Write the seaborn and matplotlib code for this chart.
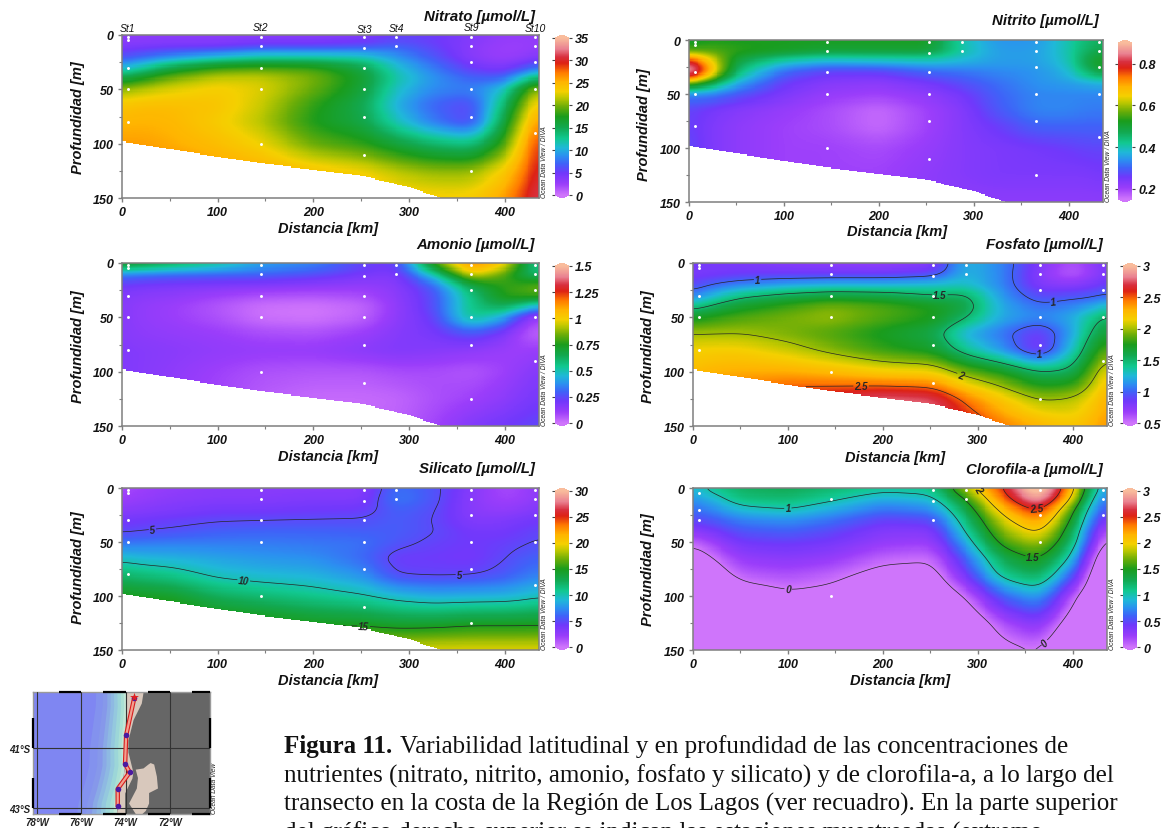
import numpy as np
import matplotlib
matplotlib.use("Agg")
import matplotlib.pyplot as plt
from matplotlib.colors import LinearSegmentedColormap
import seaborn as sns

sns.set_theme(style="white")
plt.rcParams["font.family"] = ["Liberation Sans", "DejaVu Sans"]
plt.rcParams["font.weight"] = "bold"
plt.rcParams["font.style"] = "italic"

W, H = 1165, 829

# grid nodes
dist_nodes = [0, 20, 50, 100, 145, 200, 253, 287, 325, 365, 400, 420, 436]
depth_nodes = [0, 10, 20, 30, 40, 50, 65, 80, 100, 125, 150]

# rows = distance node, columns = depth node
nitrato = [
    [3, 4, 6, 10, 15.5, 20.5, 24, 25, 26, 27, 28],
    [3, 4.2, 7, 12, 17.5, 21.5, 24.5, 25.2, 26, 27, 28],
    [3, 4.5, 8.5, 15.5, 20, 22.5, 24.5, 25, 25.5, 27, 28],
    [3, 4.5, 10.5, 18.5, 22, 23.5, 24, 23.5, 24.5, 26, 27],
    [3, 5.5, 12, 19, 22, 22.5, 22, 21.5, 23, 25.5, 27],
    [3, 5.5, 12, 18.5, 20, 19.5, 18, 17.5, 19.5, 24, 26],
    [3.5, 6, 11.5, 15.5, 16.5, 16, 15, 15.5, 18, 23, 25],
    [5, 7, 9, 11, 12, 11, 10, 11.5, 16, 21.5, 24],
    [5, 5.5, 6.5, 8, 9, 8.5, 7, 8, 14, 20.5, 23.5],
    [4, 3.5, 3.5, 5, 7, 8, 5.5, 5.5, 13, 20.5, 23.5],
    [3, 2.5, 2.5, 4, 7, 11, 14, 16, 18.5, 23.5, 26],
    [3, 2.5, 3, 6, 12, 18, 20.5, 22.5, 25, 27, 29],
    [3, 3, 4, 8, 15, 21.5, 25, 27.5, 30, 31, 32],
]
nitrito = [
    [.5, .55, .85, .95, .6, .33, .27, .27, .28, .28, .28],
    [.52, .56, .68, .72, .5, .33, .25, .24, .24, .24, .24],
    [.52, .54, .48, .44, .36, .29, .23, .22, .22, .22, .22],
    [.52, .52, .39, .3, .26, .24, .21, .2, .2, .2, .2],
    [.52, .5, .36, .26, .23, .21, .19, .19, .2, .2, .2],
    [.52, .5, .37, .26, .22, .2, .16, .16, .19, .2, .2],
    [.52, .5, .38, .3, .25, .22, .2, .2, .21, .22, .22],
    [.4, .41, .37, .31, .28, .25, .23, .23, .23, .23, .22],
    [.34, .35, .35, .33, .31, .3, .29, .26, .24, .24, .22],
    [.34, .35, .35, .34, .34, .33, .33, .3, .25, .24, .22],
    [.4, .4, .39, .37, .35, .33, .33, .3, .26, .24, .22],
    [.45, .47, .5, .46, .36, .33, .32, .3, .27, .24, .22],
    [.46, .48, .53, .5, .37, .33, .32, .3, .27, .25, .22],
]
amonio = [
    [.8, .36, .22, .17, .16, .16, .16, .17, .17, .17, .17],
    [.75, .34, .2, .15, .13, .13, .14, .16, .16, .15, .15],
    [.68, .32, .19, .14, .11, .11, .13, .15, .14, .13, .12],
    [.56, .31, .18, .1, .06, .07, .11, .13, .1, .09, .09],
    [.42, .31, .17, .07, .01, .01, .08, .12, .07, .05, .05],
    [.37, .27, .15, .06, 0, 0, .07, .12, .06, .02, .03],
    [.24, .2, .13, .08, .03, .04, .11, .15, .06, .02, .03],
    [.22, .17, .15, .14, .13, .14, .16, .17, .08, .03, .04],
    [.82, .5, .3, .25, .25, .22, .19, .16, .08, .07, .09],
    [1.2, 1.0, .68, .56, .56, .56, .28, .14, .06, .1, .17],
    [1.05, .82, .78, .78, .66, .42, .18, .11, .1, .14, .21],
    [.7, .65, .78, .8, .52, .17, .06, .1, .14, .18, .23],
    [.5, .55, .85, .82, .4, .08, .03, .12, .17, .2, .25],
]
fosfato = [
    [.85, .8, .9, 1.05, 1.4, 1.7, 2.0, 2.15, 2.25, 2.4, 2.5],
    [.82, .82, 1.0, 1.25, 1.55, 1.78, 2.0, 2.17, 2.3, 2.45, 2.55],
    [.8, .85, 1.1, 1.45, 1.7, 1.85, 2.0, 2.17, 2.32, 2.5, 2.6],
    [.75, .85, 1.2, 1.58, 1.82, 1.92, 1.93, 2.07, 2.32, 2.65, 2.7],
    [.72, .85, 1.25, 1.65, 1.93, 1.98, 1.85, 1.95, 2.27, 2.7, 2.8],
    [.7, .85, 1.25, 1.62, 1.85, 1.85, 1.72, 1.8, 2.17, 2.8, 2.9],
    [.75, .9, 1.3, 1.5, 1.75, 1.75, 1.6, 1.7, 2.15, 2.75, 2.85],
    [1.25, 1.25, 1.3, 1.55, 1.62, 1.52, 1.22, 1.4, 1.9, 2.45, 2.7],
    [1.1, 1.1, 1.1, 1.15, 1.2, 1.2, 1.05, 1.15, 1.75, 2.2, 2.45],
    [.8, .75, .78, .9, 1.03, 1.1, .82, .78, 1.5, 1.98, 2.3],
    [.6, .55, .75, .95, 1.1, 1.2, 1.18, 1.3, 1.55, 2.02, 2.2],
    [.72, .7, .82, .95, 1.18, 1.42, 1.55, 1.68, 1.9, 2.15, 2.3],
    [.85, .82, .9, 1.03, 1.35, 1.55, 1.7, 1.92, 2.2, 2.35, 2.4],
]
silicato = [
    [1.5, 2, 3, 4, 4.7, 6.5, 9.5, 12, 15, 17, 19],
    [2, 2.5, 3.2, 4.2, 5, 6.6, 9, 11.5, 14.7, 17, 19],
    [2.5, 3, 3.5, 4.5, 5.2, 6.8, 8.8, 11, 14.5, 17, 19],
    [3, 3.2, 4, 4.9, 5.8, 6.8, 8.2, 9.5, 12.5, 16, 19],
    [3, 3.2, 4, 5, 6, 6.8, 7.8, 9, 11.8, 15.5, 18.5],
    [3, 3.5, 4.2, 5.1, 6, 6.6, 7.5, 8.7, 11, 14.7, 18.5],
    [3, 3.5, 4.3, 5.2, 5.8, 6.5, 6.2, 7.5, 10.2, 14.5, 19],
    [6.5, 7, 6, 5.8, 5.8, 5.5, 4.3, 4.9, 9.2, 14, 19],
    [5.5, 5.5, 5.2, 5, 5.1, 4.7, 4.3, 4.7, 8.5, 14, 19.5],
    [3.2, 3, 3, 3.3, 4, 4.2, 4, 4.8, 8.7, 14.5, 19.5],
    [1.5, 1.8, 2.5, 3.5, 4, 4.5, 4.9, 5.5, 8.8, 14.5, 19.5],
    [2, 2.2, 3, 4, 4.5, 4.8, 5.7, 6.5, 9.2, 14.5, 19.5],
    [3, 3, 3.5, 4.2, 4.8, 5.2, 6, 7, 9.8, 14.6, 19.5],
]
clorofila = [
    [.9, .75, .62, .48, .28, .05, -.2, -.5, -.5, -.5, -.5],
    [1.1, .88, .72, .55, .38, .2, 0, -.2, -.5, -.5, -.5],
    [1.25, 1.15, .92, .7, .55, .42, .25, .1, -.2, -.5, -.5],
    [1.3, 1.18, 1.0, .75, .6, .45, .3, .15, -.05, -.5, -.5],
    [1.22, 1.05, .85, .65, .5, .4, .25, .08, -.1, -.5, -.5],
    [1.1, .85, .65, .45, .33, .25, .07, -.1, -.3, -.5, -.5],
    [1.12, .93, .72, .5, .33, .22, .03, -.12, -.3, -.5, -.5],
    [1.85, 1.5, 1.3, 1.15, 1.02, .85, .6, .4, .02, -.3, -.5],
    [2.5, 2.35, 2.1, 1.9, 1.75, 1.6, 1.3, 1.1, .6, .15, -.1],
    [3.3, 3.0, 2.6, 2.3, 2.08, 1.85, 1.55, 1.3, .85, .35, .02],
    [2.15, 1.95, 1.6, 1.45, 1.3, 1.2, .95, .6, .1, -.2, -.5],
    [1.15, .95, .8, .65, .5, .4, .1, -.1, -.3, -.5, -.5],
    [.75, .6, .45, .25, .02, -.2, -.4, -.5, -.5, -.5, -.5],
]

bathy_x = [0, 50, 100, 145, 200, 253, 300, 320, 335, 337]
bathy_d = [98, 105, 112, 118, 124, 130, 140, 146, 150, 153]

station_names = ["St1", "St2", "St3", "St4", "St9", "St10"]
station_km = [6, 145, 253, 287, 365, 432]
station_rise = [1.5, 2, .5, 1.5, 2, 1.5]
sample_km = [6, 6, 6, 6, 6, 145, 145, 145, 145, 145, 253, 253, 253, 253, 253, 253,
             287, 287, 365, 365, 365, 365, 365, 365, 432, 432, 432, 432, 432]
sample_m = [2, 5, 30, 50, 80, 2, 10, 30, 50, 100, 2, 12, 30, 50, 75, 110,
            2, 10, 2, 10, 25, 50, 75, 125, 2, 10, 25, 50, 90]
chl_km = [6, 6, 6, 145, 145, 253, 253, 253, 287, 287, 365, 365, 365, 432, 432, 432]
chl_m = [5, 20, 30, 10, 100, 2, 12, 30, 2, 10, 2, 25, 50, 2, 10, 25]

cmap_pos = [0, .07, .14, .2, .25, .3, .36, .43, .5, .56, .62, .66, .72, .78, .84, .88, .93, 1]
cmap_col = ["#cf75fb", "#9a3dfa", "#7038fb", "#3f62f8", "#2b90f0", "#1fb8d8", "#11c890",
            "#12a850", "#1a9c1c", "#68ac08", "#c0c800", "#f4d000", "#ffb400", "#ff7a00",
            "#dd2215", "#d83040", "#e98090", "#f9bc9c"]
odv = LinearSegmentedColormap.from_list("odv", list(zip(cmap_pos, cmap_col)), N=512)
odv.set_under(cmap_col[0])
odv.set_over(cmap_col[-1])

GRID_X = np.arange(436) + .5
GRID_D = np.arange(150) + .5
GRAY = "#7f7f7f"


def axes_px(x0, y0, x1, y1):
    return fig.add_axes([x0 / W, 1 - y1 / H, (x1 - x0) / W, (y1 - y0) / H])


def blur(a, width, axis):
    kernel = np.ones(width) / width
    pad = width // 2
    for _ in range(3):
        pads = [(0, 0), (0, 0)]
        pads[axis] = (pad, pad)
        b = np.pad(a, pads, mode="edge")
        a = np.apply_along_axis(lambda v: np.convolve(v, kernel, mode="valid"), axis, b)
    return a


def fine_field(values):
    v = np.array(values, float)
    by_depth = np.array([np.interp(GRID_D, depth_nodes, row) for row in v])
    full = np.array([np.interp(GRID_X, dist_nodes, col) for col in by_depth.T])
    return blur(blur(full, 19, 1), 7, 0)


def ftxt(x, y, s, **kw):
    return fig.text(x / W, 1 - y / H, s, **kw)


def panel(box, cbox, values, vmin, vmax, ticks, ticklabels, title, title_xy, xlab_xy, ylab_xy,
          masked=True, levels=None, labels=None, pts=(sample_km, sample_m)):
    ax = axes_px(*box)
    cax = axes_px(*cbox)
    z = fine_field(values)
    xx, dd = np.meshgrid(GRID_X, GRID_D)
    mask = dd > np.interp(xx, bathy_x, bathy_d) if masked else np.zeros_like(z, bool)
    sns.heatmap(z, mask=mask, cmap=odv, vmin=vmin, vmax=vmax, ax=ax, cbar_ax=cax,
                xticklabels=False, yticklabels=False,
                cbar_kws=dict(ticks=ticks, extend="both", extendfrac=0.018))
    if levels:
        cs = ax.contour(xx, dd, np.ma.array(z, mask=mask), levels=levels, colors="#262626",
                        linewidths=0.5)
        fmt = {lv: f"{lv:g}" for lv in levels}
        for t in ax.clabel(cs, fmt=fmt, fontsize=7, manual=labels, inline=True, inline_spacing=1):
            t.set_fontweight("bold")
            t.set_fontstyle("italic")
    ax.scatter(pts[0], pts[1], s=4.5, color="white", linewidths=0, zorder=5, clip_on=False)
    ax.set_xlim(0, 436)
    ax.set_ylim(150, 0)
    ax.set_xticks([0, 100, 200, 300, 400], ["0", "100", "200", "300", "400"])
    ax.set_yticks([0, 50, 100, 150], ["0", "50", "100", "150"])
    ax.set_xticks([50, 150, 250, 350], minor=True)
    ax.set_yticks([25, 75, 125], minor=True)
    ax.tick_params(which="major", length=3, width=1, color=GRAY, labelsize=9, pad=3,
                   bottom=True, left=True, labelcolor="#111111")
    ax.tick_params(which="minor", length=2, width=.8, color=GRAY, bottom=True, left=True)
    for s in ax.spines.values():
        s.set_visible(True)
        s.set_color(GRAY)
        s.set_linewidth(1.1)
    cb = ax.collections[0].colorbar
    cb.set_ticks(ticks, labels=ticklabels)
    cb.ax.tick_params(length=2.5, width=.8, color="#444444", labelsize=9, pad=2,
                      labelcolor="#111111", right=True, left=True)
    cb.outline.set_linewidth(0)
    ftxt(title_xy[0], title_xy[1], title, ha="right", va="center", fontsize=10.8, color="#111111")
    ftxt(xlab_xy[0], xlab_xy[1], "Distancia [km]", ha="center", va="center", fontsize=10.5, color="#111111")
    ftxt(ylab_xy[0], ylab_xy[1], "Profundidad [m]", ha="center", va="center", rotation=90,
         fontsize=10.5, color="#111111")
    ftxt(box[2] + 6, box[3] - 1, "Ocean Data View / DIVA", ha="center", va="bottom", rotation=90,
         fontsize=4.8, fontweight="normal", color="#222222")
    return ax


fig = plt.figure(figsize=(W / 100, H / 100), dpi=100, facecolor="white")

L = (122, 539)
R = (693, 1107)
ax_no3 = panel((L[0], 36, L[1], 199), (555, 36, 569, 199), nitrato, 0, 35, list(range(0, 36, 5)),
               [str(i) for i in range(0, 36, 5)], "Nitrato [µmol/L]", (535, 17), (328, 229), (78, 118))
panel((689, 41, 1103, 203), (1118, 41, 1132, 203), nitrito, .15, .9, [.2, .4, .6, .8],
      ["0.2", "0.4", "0.6", "0.8"], "Nitrito [µmol/L]", (1099, 21), (897, 232), (644, 125))
panel((L[0], 264, L[1], 427), (555, 264, 569, 427), amonio, 0, 1.5, [0, .25, .5, .75, 1, 1.25, 1.5],
      ["0", "0.25", "0.5", "0.75", "1", "1.25", "1.5"], "Amonio [µmol/L]", (535, 245), (328, 457), (78, 347))
panel((R[0], 264, R[1], 427), (1123, 264, 1137, 427), fosfato, .5, 3, [.5, 1, 1.5, 2, 2.5, 3],
      ["0.5", "1", "1.5", "2", "2.5", "3"], "Fosfato [µmol/L]", (1103, 245), (895, 458), (648, 347),
      levels=[1, 1.5, 2, 2.5],
      labels=[(68, 15), (380, 39), (365, 82), (260, 28), (283, 100), (177, 112)])
panel((L[0], 489, L[1], 651), (555, 489, 569, 651), silicato, 0, 30, list(range(0, 31, 5)),
      [str(i) for i in range(0, 31, 5)], "Silicato [µmol/L]", (535, 469), (328, 681), (78, 568),
      levels=[5, 10, 15], labels=[(32, 40), (353, 87), (127, 88), (253, 122)])
panel((R[0], 489, R[1], 651), (1123, 489, 1137, 651), clorofila, 0, 3, [0, .5, 1, 1.5, 2, 2.5, 3],
      ["0", "0.5", "1", "1.5", "2", "2.5", "3"], "Clorofila-a [µmol/L]", (1103, 470), (900, 681), (648, 570),
      masked=False, levels=[0, 1, 1.5, 2, 2.5],
      labels=[(100, 97), (375, 148), (100, 20), (358, 67), (300, 0.5), (362, 22)],
      pts=(chl_km, chl_m))

# station names above the first panel
for name, km, rise in zip(station_names, station_km, station_rise):
    ax_no3.annotate(name, (km, 0), xytext=(0, rise), textcoords="offset points",
                    ha="center", va="bottom", fontsize=7.5, fontweight="normal", color="#111111",
                    annotation_clip=False)

# inset map
coast_lon = [-74.0, -73.97, -74.05, -74.08, -74.05, -74.12, -74.24, -74.39, -74.42]
coast_lat = [-39.13, -39.6, -40.6, -41.02, -41.58, -41.92, -42.36, -42.81, -43.2]
land_lon = [-73.22, -73.3, -73.67, -73.9, -73.9, -73.75, -73.68, -73.72, -74.05, -74.05]
land_lat = [-39.13, -39.5, -40.05, -40.73, -41.13, -41.58, -41.8, -42.0, -42.5, -43.2]
chiloe_lon = [-73.55, -73.2, -72.98, -72.88, -72.72, -72.6, -72.55, -72.95, -72.95, -73.1, -73.25,
              -73.1, -73.55, -73.85, -73.5, -73.45]
chiloe_lat = [-41.72, -41.68, -41.55, -41.5, -41.55, -41.95, -42.35, -42.5, -42.85, -43.1, -43.2,
              -43.2, -43.2, -42.85, -42.35, -42.0]
shelf_offset = [1.35, 1.05, .85, .7, .55, .4, .25, .12]
shelf_col = ["#8392ee", "#8698ea", "#8aaae6", "#8eb9e2", "#94c8de", "#9cd6d8", "#aae0d4", "#c2e6d6"]
track_lon = [-73.62, -73.98, -74.03, -73.82, -74.36, -74.36]
track_lat = [-39.34, -40.57, -41.53, -41.81, -42.36, -42.94]
lon_ticks = [-78, -76, -74, -72]
lat_ticks = [-41, -43]
frame_lon = [-77, -76, -75, -74, -73, -72, -71, -70.2]
frame_lat = [-40, -41, -42, -43]

m = axes_px(33, 693, 210, 815)
m.set_xlim(-78.17, -70.21)
m.set_ylim(-43.2, -39.13)
m.set_facecolor("#7f86f2")
for off, col in zip(shelf_offset, shelf_col):
    m.fill_betweenx(coast_lat, np.array(coast_lon) - off * (1 + (-39.13 - np.array(coast_lat)) * .08),
                    coast_lon, color=col, lw=0)
m.fill_betweenx(coast_lat, coast_lon, -70.21, color="#666666", lw=0)
m.fill_betweenx(land_lat, np.interp(land_lat, coast_lat[::-1], coast_lon[::-1]), land_lon,
                color="#d8c8bc", lw=0)
m.fill(chiloe_lon, chiloe_lat, color="#d8c8bc", lw=0)
m.plot(track_lon, track_lat, color="#d81c1c", lw=3.2, solid_capstyle="round", zorder=4)
m.plot(track_lon, track_lat, color="#f2a090", lw=1.6, zorder=5)
m.scatter(track_lon, track_lat, s=16, color="#4b1aa0", zorder=6, linewidths=0)
m.scatter(track_lon[:1], [-39.3], s=45, marker="*", color="#e02020", zorder=7, linewidths=0)
for v in lon_ticks:
    m.axvline(v, color="#333333", lw=.8, zorder=3)
for v in lat_ticks:
    m.axhline(v, color="#333333", lw=.8, zorder=3)
for a, b in zip(frame_lon[0::2], frame_lon[1::2]):
    m.plot([a, b], [-39.13, -39.13], color="black", lw=1.6, clip_on=False, zorder=8, solid_capstyle="butt")
    m.plot([a, b], [-43.2, -43.2], color="black", lw=1.6, clip_on=False, zorder=8, solid_capstyle="butt")
for a, b in zip(frame_lat[0::2], frame_lat[1::2]):
    m.plot([-78.17, -78.17], [a, b], color="black", lw=1.6, clip_on=False, zorder=8, solid_capstyle="butt")
    m.plot([-70.21, -70.21], [a, b], color="black", lw=1.6, clip_on=False, zorder=8, solid_capstyle="butt")
m.set_xticks(lon_ticks, ["78°W", "76°W", "74°W", "72°W"])
m.set_yticks(lat_ticks, ["41°S", "43°S"])
m.tick_params(length=0, labelsize=7, pad=2, labelcolor="#222222")
for s in m.spines.values():
    s.set_color("#9a9a9a")
    s.set_linewidth(1)
ftxt(215, 814, "Ocean Data View", rotation=90, ha="center", va="bottom", fontsize=4.8,
     fontweight="normal", color="#222222")

# caption
serif = dict(family="Liberation Serif", fontstyle="normal", fontsize=18, color="#111111", va="center")
caption_lines = [
    "Variabilidad latitudinal y en profundidad de las concentraciones de",
    "nutrientes (nitrato, nitrito, amonio, fosfato y silicato) y de clorofila-a, a lo largo del",
    "transecto en la costa de la Región de Los Lagos (ver recuadro). En la parte superior",
    "del gráfico derecho superior se indican las estaciones muestreadas (extremo",
]
ftxt(284, 747, "Figura 11.", fontweight="bold", **serif)
ftxt(400, 747, caption_lines[0], fontweight="normal", **serif)
ftxt(284, 776, caption_lines[1], fontweight="normal", **serif)
ftxt(284, 804, caption_lines[2], fontweight="normal", **serif)
ftxt(284, 833, caption_lines[3], fontweight="normal", **serif)

fig.savefig("out.png", dpi=100, facecolor="white")
